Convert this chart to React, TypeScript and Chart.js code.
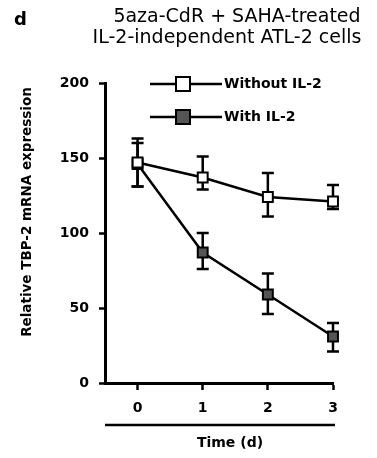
import React, { useEffect, useRef } from "react";
import { Chart, registerables } from "chart.js";

Chart.register(...registerables);

const days = [0, 1, 2, 3];
const withoutIL2 = [147, 137, 124, 121];
const withoutIL2Hi = [163, 151, 140, 132];
const withoutIL2Lo = [131, 129, 111, 116];
const withIL2 = [146, 87, 59, 31];
const withIL2Hi = [160, 100, 73, 40];
const withIL2Lo = [131, 76, 46, 21];
const yTicks = [0, 50, 100, 150, 200];
const titleLines = ["5aza-CdR + SAHA-treated", "IL-2-independent ATL-2 cells"];
const panelLabel = "d";
const yTitle = "Relative TBP-2 mRNA expression";
const xTitle = "Time (d)";
const seriesLabels = ["Without IL-2", "With IL-2"];

const FONT = "'DejaVu Sans', sans-serif";
const LW = 2.5;

export default function App() {
  const ref = useRef<HTMLCanvasElement | null>(null);
  useEffect(() => {
    document.body.style.margin = "0";
    const canvas = ref.current!;
    const errors = [
      { hi: withoutIL2Hi, lo: withoutIL2Lo },
      { hi: withIL2Hi, lo: withIL2Lo },
    ];
    const errorPlugin = {
      id: "errbars",
      beforeDatasetsDraw(chart: any) {
        const ctx = chart.ctx;
        const xs = chart.scales.x;
        const ys = chart.scales.y;
        ctx.save();
        ctx.strokeStyle = "#000";
        ctx.lineWidth = LW;
        errors.forEach((e) => {
          days.forEach((d, i) => {
            const x = xs.getPixelForValue(d);
            const yh = ys.getPixelForValue(e.hi[i]);
            const yl = ys.getPixelForValue(e.lo[i]);
            ctx.beginPath();
            ctx.moveTo(x, yh);
            ctx.lineTo(x, yl);
            ctx.moveTo(x - 6, yh);
            ctx.lineTo(x + 6, yh);
            ctx.moveTo(x - 6, yl);
            ctx.lineTo(x + 6, yl);
            ctx.stroke();
          });
        });
        ctx.restore();
      },
    };
    const textPlugin = {
      id: "texts",
      afterDraw(chart: any) {
        const ctx = chart.ctx;
        const xs = chart.scales.x;
        ctx.save();
        ctx.fillStyle = "#000";
        ctx.textAlign = "left";
        ctx.textBaseline = "middle";
        ctx.font = `bold 18px ${FONT}`;
        ctx.fillText(panelLabel, 14, 20);
        ctx.textAlign = "center";
        ctx.font = `19px ${FONT}`;
        ctx.fillText(titleLines[0], 237, 17);
        ctx.fillText(titleLines[1], 227, 38);
        // y title
        ctx.save();
        ctx.translate(27, 212);
        ctx.rotate(-Math.PI / 2);
        ctx.font = `bold 13.5px ${FONT}`;
        ctx.fillText(yTitle, 0, 0);
        ctx.restore();
        // underline
        ctx.strokeStyle = "#000";
        ctx.lineWidth = LW;
        ctx.beginPath();
        ctx.moveTo(xs.left, 425);
        ctx.lineTo(xs.right + 2, 425);
        ctx.stroke();
        ctx.font = `bold 14px ${FONT}`;
        ctx.fillText(xTitle, 230, 443);
        // legend
        const ds = chart.data.datasets;
        const rows = [84, 117];
        ds.forEach((d: any, i: number) => {
          const y = rows[i];
          ctx.lineWidth = LW;
          ctx.strokeStyle = "#000";
          ctx.beginPath();
          ctx.moveTo(150, y);
          ctx.lineTo(222, y);
          ctx.stroke();
          ctx.fillStyle = d.pointBackgroundColor;
          ctx.fillRect(176, y - 7, 14, 14);
          ctx.lineWidth = 2;
          ctx.strokeRect(176, y - 7, 14, 14);
          ctx.fillStyle = "#000";
          ctx.textAlign = "left";
          ctx.font = `bold 14px ${FONT}`;
          ctx.fillText(d.label, 224, y);
        });
        ctx.restore();
      },
    };
    const chart = new Chart(canvas, {
      type: "line",
      data: {
        datasets: [
          {
            label: seriesLabels[0],
            data: days.map((d, i) => ({ x: d, y: withoutIL2[i] })),
            borderColor: "#000",
            borderWidth: LW,
            pointStyle: "rect",
            pointRadius: 7,
            pointBorderWidth: 2,
            pointBorderColor: "#000",
            pointBackgroundColor: "#fff",
            clip: false,
          },
          {
            label: seriesLabels[1],
            data: days.map((d, i) => ({ x: d, y: withIL2[i] })),
            borderColor: "#000",
            borderWidth: LW,
            pointStyle: "rect",
            pointRadius: 7,
            pointBorderWidth: 2,
            pointBorderColor: "#000",
            pointBackgroundColor: "#555",
            clip: false,
          },
        ],
      },
      options: {
        animation: false,
        responsive: false,
        layout: { padding: { top: 83, right: 44, left: 0, bottom: 35 } },
        plugins: { legend: { display: false }, tooltip: { enabled: false }, title: { display: false } },
        scales: {
          x: {
            type: "linear",
            min: -0.5,
            max: 3,
            afterFit: (s: any) => {
              s.height = 40;
            },
            afterBuildTicks: (s: any) => {
              s.ticks = days.map((v) => ({ value: v }));
            },
            grid: { display: true, drawOnChartArea: false, tickLength: 7, tickWidth: LW, color: "#000" },
            border: { display: true, width: 3, color: "#000" },
            ticks: { color: "#000", padding: 10, font: { family: FONT, size: 14, weight: "bold" } },
          },
          y: {
            min: 0,
            max: 200,
            afterFit: (s: any) => {
              s.width = 105;
            },
            afterBuildTicks: (s: any) => {
              s.ticks = yTicks.map((v) => ({ value: v }));
            },
            grid: { display: true, drawOnChartArea: false, tickLength: 6, tickWidth: LW, color: "#000" },
            border: { display: true, width: 3, color: "#000" },
            ticks: { color: "#000", padding: 10, font: { family: FONT, size: 14, weight: "bold" } },
          },
        },
      },
      plugins: [errorPlugin, textPlugin],
    });
    return () => chart.destroy();
  }, []);
  return (
    <div style={{ position: "absolute", left: 0, top: 0, width: 377, height: 458, background: "#fff" }}>
      <canvas ref={ref} width={377} height={458} />
    </div>
  );
}
